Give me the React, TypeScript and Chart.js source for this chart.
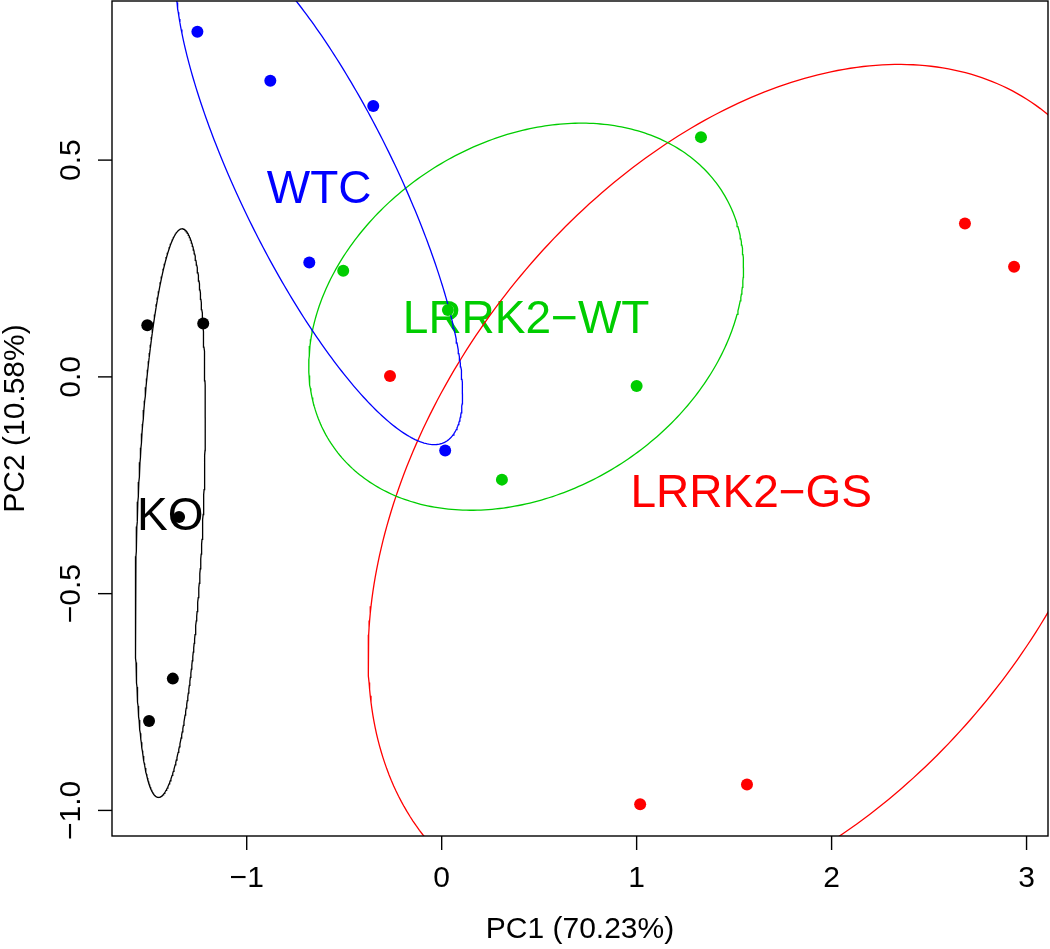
import React, { useEffect, useRef } from "react";
import { Chart, registerables } from "chart.js";

Chart.register(...registerables);

// ---- data ----
const groupLabels = ["KO", "WTC", "LRRK2−WT", "LRRK2−GS"];
const groupColors = ["#000000", "#0000FF", "#00CD00", "#FF0000"];

const koPC1 = [-1.51, -1.223, -1.347, -1.379, -1.501];
const koPC2 = [0.119, 0.123, -0.323, -0.696, -0.794];
const wtcPC1 = [-1.253, -0.879, -0.351, -0.679, 0.018];
const wtcPC2 = [0.796, 0.683, 0.625, 0.264, -0.17];
const wtPC1 = [1.33, -0.505, 0.032, 1.0, 0.309];
const wtPC2 = [0.553, 0.245, 0.154, -0.021, -0.237];
const gsPC1 = [-0.265, 2.684, 2.936, 1.018, 1.566];
const gsPC2 = [0.002, 0.354, 0.254, -0.986, -0.94];

const xTicks = [-1, 0, 1, 2, 3];
const xTickLabels = ["−1", "0", "1", "2", "3"];
const yTicks = [-1, -0.5, 0, 0.5];
const yTickLabels = ["−1.0", "−0.5", "0.0", "0.5"];
const xRange = [-1.691, 3.11];
const yRange = [-1.059, 0.867];
const xTitle = "PC1 (70.23%)";
const yTitle = "PC2 (10.58%)";
const ellipseProb = 0.68;

const FONT = "'Liberation Sans', Arial, Helvetica, sans-serif";

const groupsX = [koPC1, wtcPC1, wtPC1, gsPC1];
const groupsY = [koPC2, wtcPC2, wtPC2, gsPC2];

function mean(a: number[]) {
  return a.reduce((s, v) => s + v, 0) / a.length;
}

// normal data ellipse (covariance based) for a group
function dataEllipse(xs: number[], ys: number[], prob: number) {
  const mx = mean(xs);
  const my = mean(ys);
  const n = xs.length;
  let sxx = 0, syy = 0, sxy = 0;
  for (let i = 0; i < n; i++) {
    const dx = xs[i] - mx;
    const dy = ys[i] - my;
    sxx += dx * dx;
    syy += dy * dy;
    sxy += dx * dy;
  }
  sxx /= n - 1;
  syy /= n - 1;
  sxy /= n - 1;
  const a = Math.sqrt(sxx);
  const b = sxy / a;
  const c = Math.sqrt(Math.max(syy - b * b, 0));
  const r = Math.sqrt(-2 * Math.log(1 - prob));
  const pts: { x: number; y: number }[] = [];
  const N = 360;
  for (let k = 0; k <= N; k++) {
    const t = (2 * Math.PI * k) / N;
    const ct = Math.cos(t);
    const st = Math.sin(t);
    pts.push({ x: mx + r * ct * a, y: my + r * (ct * b + st * c) });
  }
  return pts;
}

const rPlugin = {
  id: "rBaseAxes",
  beforeDatasetsDraw(chart: any) {
    const ctx = chart.ctx;
    const xs = chart.scales.x;
    const ys = chart.scales.y;
    ctx.save();
    ctx.font = `46px ${FONT}`;
    ctx.textAlign = "center";
    ctx.textBaseline = "alphabetic";
    for (let g = 0; g < groupLabels.length; g++) {
      const px = xs.getPixelForValue(mean(groupsX[g]));
      const py = ys.getPixelForValue(mean(groupsY[g]));
      ctx.fillStyle = groupColors[g];
      ctx.fillText(groupLabels[g], px, py + 16.5);
    }
    ctx.restore();
  },
  afterDraw(chart: any) {
    const ctx = chart.ctx;
    const area = chart.chartArea;
    const xs = chart.scales.x;
    const ys = chart.scales.y;
    ctx.save();
    ctx.strokeStyle = "#000";
    ctx.lineWidth = 1.4;
    ctx.strokeRect(area.left, area.top, area.right - area.left, area.bottom - area.top);
    ctx.fillStyle = "#000";
    ctx.font = `30px ${FONT}`;
    // x ticks
    ctx.textAlign = "center";
    ctx.textBaseline = "alphabetic";
    xTicks.forEach((v, i) => {
      const px = xs.getPixelForValue(v);
      ctx.beginPath();
      ctx.moveTo(px, area.bottom);
      ctx.lineTo(px, area.bottom + 14);
      ctx.stroke();
      ctx.fillText(xTickLabels[i], px, area.bottom + 51);
    });
    // y ticks
    yTicks.forEach((v, i) => {
      const py = ys.getPixelForValue(v);
      ctx.beginPath();
      ctx.moveTo(area.left, py);
      ctx.lineTo(area.left - 14, py);
      ctx.stroke();
      ctx.save();
      ctx.translate(area.left - 32, py);
      ctx.rotate(-Math.PI / 2);
      ctx.fillText(yTickLabels[i], 0, 0);
      ctx.restore();
    });
    // titles
    ctx.fillText(xTitle, (area.left + area.right) / 2, 938);
    ctx.save();
    ctx.translate(24, (area.top + area.bottom) / 2);
    ctx.rotate(-Math.PI / 2);
    ctx.fillText(yTitle, 0, 0);
    ctx.restore();
    ctx.restore();
  },
};

export default function App() {
  const ref = useRef<HTMLCanvasElement | null>(null);

  useEffect(() => {
    document.body.style.margin = "0";
    const canvas = ref.current;
    if (!canvas) return;

    const datasets: any[] = [];
    for (let g = 0; g < groupLabels.length; g++) {
      datasets.push({
        label: groupLabels[g] + " ellipse",
        data: dataEllipse(groupsX[g], groupsY[g], ellipseProb),
        showLine: true,
        borderColor: groupColors[g],
        borderWidth: 1.3,
        pointRadius: 0,
        fill: false,
        tension: 0,
        order: 2,
      });
    }
    for (let g = 0; g < groupLabels.length; g++) {
      datasets.push({
        label: groupLabels[g],
        data: groupsX[g].map((x, i) => ({ x, y: groupsY[g][i] })),
        showLine: false,
        pointRadius: 6,
        pointBorderWidth: 0,
        pointBackgroundColor: groupColors[g],
        pointBorderColor: groupColors[g],
        order: 1,
      });
    }

    const chart = new Chart(canvas, {
      type: "scatter",
      data: { datasets },
      options: {
        animation: false,
        responsive: false,
        events: [],
        layout: { autoPadding: false, padding: { top: 1, right: 2, left: 0, bottom: 0 } },
        plugins: {
          legend: { display: false },
          tooltip: { enabled: false },
          title: { display: false },
        },
        scales: {
          x: {
            type: "linear",
            min: xRange[0],
            max: xRange[1],
            grid: { display: false },
            border: { display: false },
            ticks: { display: false },
            afterBuildTicks: (s: any) => {
              s.ticks = xTicks.map((v) => ({ value: v }));
            },
            afterFit: (s: any) => {
              s.height = 113;
            },
          },
          y: {
            type: "linear",
            min: yRange[0],
            max: yRange[1],
            grid: { display: false },
            border: { display: false },
            ticks: { display: false },
            afterBuildTicks: (s: any) => {
              s.ticks = yTicks.map((v) => ({ value: v }));
            },
            afterFit: (s: any) => {
              s.width = 112;
            },
          },
        },
      } as any,
      plugins: [rPlugin],
    });

    return () => {
      chart.destroy();
    };
  }, []);

  return (
    <div style={{ width: 1050, height: 949, background: "#fff" }}>
      <canvas ref={ref} width={1050} height={949} style={{ display: "block" }} />
    </div>
  );
}
